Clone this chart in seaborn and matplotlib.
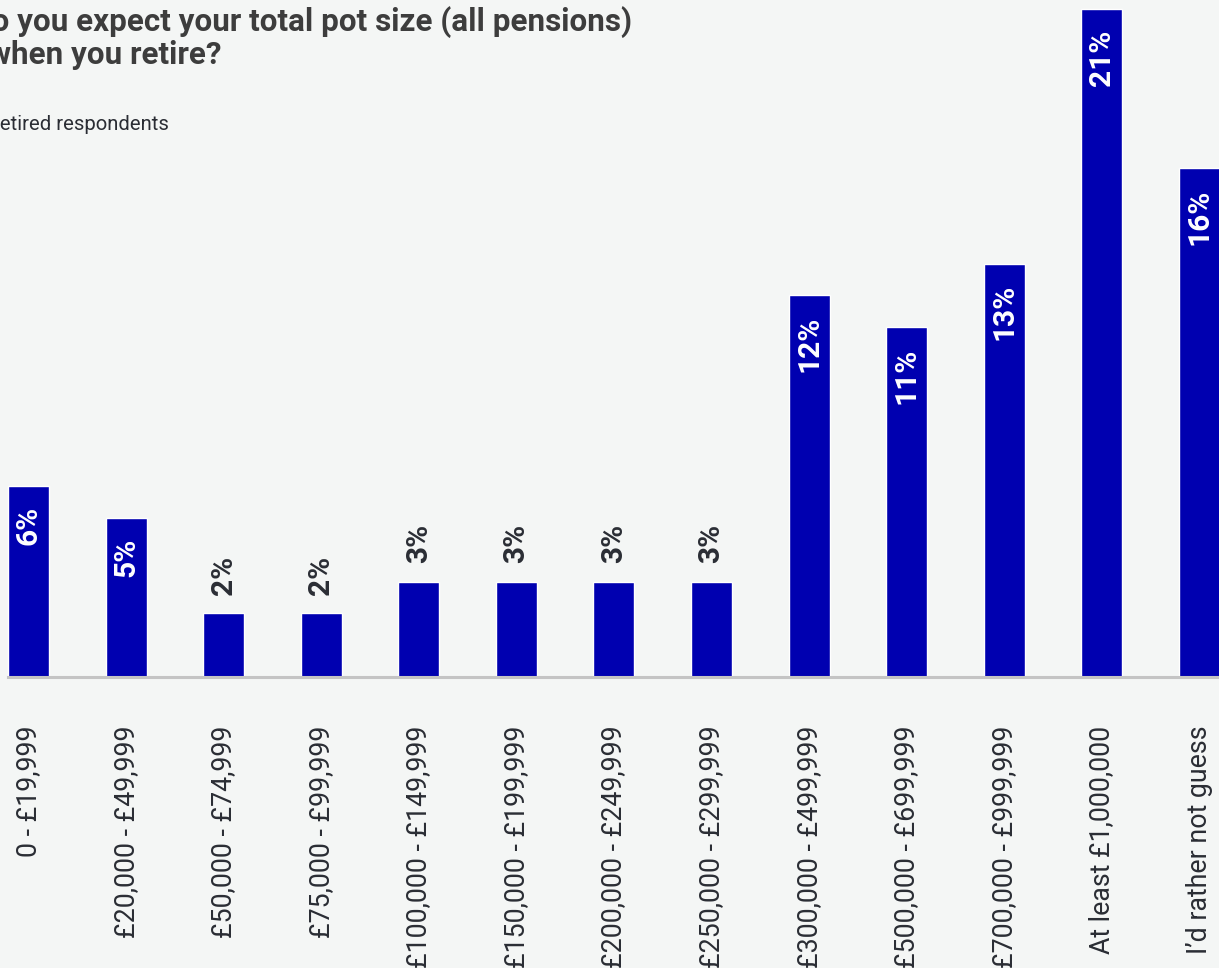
import matplotlib
matplotlib.use("Agg")
import matplotlib.pyplot as plt
import seaborn as sns
import pandas as pd

# Expected total pension pot at retirement (share of respondents, %)
categories = [
    "0 - £19,999",
    "£20,000 - £49,999",
    "£50,000 - £74,999",
    "£75,000 - £99,999",
    "£100,000 - £149,999",
    "£150,000 - £199,999",
    "£200,000 - £249,999",
    "£250,000 - £299,999",
    "£300,000 - £499,999",
    "£500,000 - £699,999",
    "£700,000 - £999,999",
    "At least £1,000,000",
    "I’d rather not guess",
]
shares = [6, 5, 2, 2, 3, 3, 3, 3, 12, 11, 13, 21, 16]
value_labels = [f"{v}%" for v in shares]

title_lines = ["do you expect your total pot size (all pensions)", "when you retire?"]
subtitle = "retired respondents"

BG = "#f4f6f5"
BAR = "#0000b0"
TEXT = "#2a2d34"
TITLE = "#3d3d3d"

sns.set_theme(style="white")
plt.rcParams["font.family"] = ["Roboto", "DejaVu Sans"]

W, H = 1219, 968
fig = plt.figure(figsize=(W / 100, H / 100), dpi=100, facecolor=BG)
ax = fig.add_axes([8 / W, 1 - 677 / H, 1 - 8 / W, 677 / H])
ax.set_facecolor(BG)

df = pd.DataFrame({"band": categories, "share": shares})
sns.barplot(data=df, x="band", y="share", color=BAR, width=0.42,
            saturation=1, ax=ax)
for p in ax.patches:
    p.set_clip_on(False)

ax.set_xlim(-0.21, 12.2)
ax.set_ylim(0, 21.29)
ax.set_xlabel("")
ax.set_ylabel("")
ax.set_yticks([])

for side in ("left", "right", "top"):
    ax.spines[side].set_visible(False)
ax.spines["bottom"].set_color("#c4c4c4")
ax.spines["bottom"].set_linewidth(2.2)

ax.tick_params(axis="x", length=0, pad=35, labelsize=19.3, labelcolor=TEXT)
plt.setp(ax.get_xticklabels(), rotation=90, ha="center", va="top")

# value labels: inside the bar for tall bars, above it for short ones
for i, (v, lab) in enumerate(zip(shares, value_labels)):
    if v >= 5:
        ax.annotate(lab, xy=(i, v), xytext=(0, -14.5), textcoords="offset points",
                    rotation=90, ha="center", va="top", color="white",
                    fontsize=21.5, fontweight="bold", annotation_clip=False)
    else:
        ax.annotate(lab, xy=(i, v), xytext=(0, 13.5), textcoords="offset points",
                    rotation=90, ha="center", va="bottom", color=TEXT,
                    fontsize=21.5, fontweight="bold", annotation_clip=False)

fig.text(-26 / W, 1 - 31 / H, title_lines[0], fontsize=22.6, fontweight="bold",
         color=TITLE, ha="left", va="baseline")
fig.text(-12 / W, 1 - 64 / H, title_lines[1], fontsize=22.6, fontweight="bold",
         color=TITLE, ha="left", va="baseline")
fig.text(-7 / W, 1 - 130 / H, subtitle, fontsize=14.6, color=TEXT,
         ha="left", va="baseline")

fig.savefig("out.png", dpi=100, facecolor=BG)
